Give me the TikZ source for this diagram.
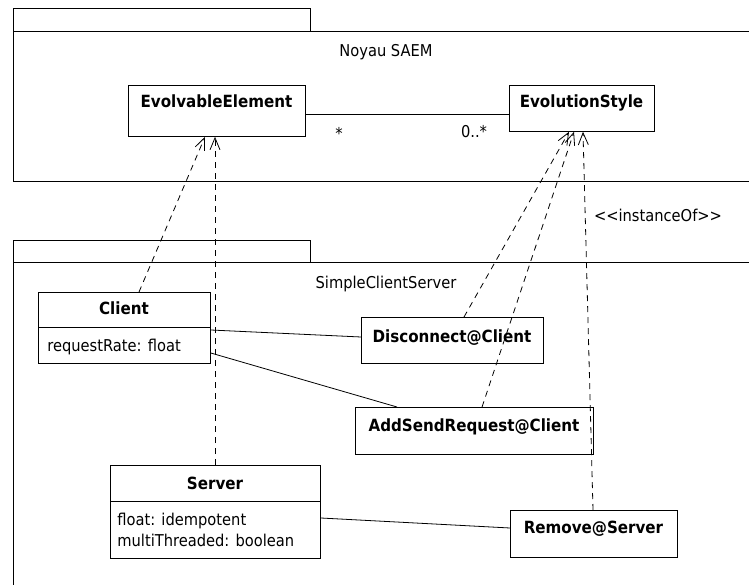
\documentclass[tikz,border=0pt]{standalone}
\usepackage{fontspec}
\setmainfont{DejaVu Sans Condensed}
\usetikzlibrary{arrows.meta,calc}
\begin{document}
\begin{tikzpicture}[x=1pt,y=-1pt,line width=0.8pt,
  box/.style={draw,fill=white,inner sep=0pt,anchor=north west},
  tab/.style={draw,inner sep=0pt,anchor=north west},
  ttl/.style={font=\bfseries\fontsize{16.8}{19}\selectfont,anchor=base,inner sep=0pt},
  txt/.style={font=\fontsize{16.3}{19}\selectfont,anchor=base,inner sep=0pt},
  attr/.style={font=\fontsize{16.3}{19}\selectfont,anchor=base west,inner sep=0pt},
  dep/.style={dash pattern=on 6pt off 5pt,-{Straight Barb[length=12pt,width=10pt]}},
  assoc/.style={draw}]
\useasboundingbox (0,0) rectangle (749,585);
\clip (0,0) rectangle (749,585);
% packages
\node[tab,minimum width=297,minimum height=23] (tab1) at (13,8) {};
\draw (760,31) -- (13,31) -- (13,181) -- (760,181);
\node[txt] (noyau) at (386,57) {Noyau SAEM};
\node[tab,minimum width=297,minimum height=22] (tab2) at (13,240) {};
\draw (760,262) -- (13,262) -- (13,600);
\node[txt] (scs) at (386,288) {SimpleClientServer};
% Noyau classes
\node[box,minimum width=177,minimum height=51] (ee) at (128,85) {};
\node[ttl] (eet) at (216.5,108) {EvolvableElement};
\node[box,minimum width=145,minimum height=46] (es) at (509,85) {};
\node[ttl] (est) at (581.5,108) {EvolutionStyle};
\draw (ee.east |- 0,114) -- (es.west |- 0,114);
\node[txt] (m1) at (339,140) {*};
\node[txt] (m2) at (474,138) {0..*};
% SimpleClientServer classes
\node[box,minimum width=172,minimum height=71] (cl) at (38,292) {};
\draw (cl.west |- 0,327) -- (cl.east |- 0,327);
\node[ttl] (clt) at (124,314) {Client};
\node[attr] (cla) at (47,351) {requestRate: float};
\node[box,minimum width=182,minimum height=46] (dc) at (361,317) {};
\node[ttl] (dct) at (452,342) {Disconnect@Client};
\node[box,minimum width=238,minimum height=47] (asr) at (355,407) {};
\node[ttl] (asrt) at (474,431) {AddSendRequest@Client};
\node[box,minimum width=210,minimum height=93] (sv) at (110,465) {};
\draw (sv.west |- 0,501) -- (sv.east |- 0,501);
\node[ttl] (svt) at (215,489) {Server};
\node[attr] (sva1) at (117,525) {float: idempotent};
\node[attr] (sva2) at (117,546) {multiThreaded: boolean};
\node[box,minimum width=167,minimum height=47] (rm) at (510,510) {};
\node[ttl] (rmt) at (593.5,533) {Remove@Server};
% associations
\draw (cl.east |- 0,330) -- (dc.west |- 0,337);
\draw (cl.east |- 0,353) -- (asr.north -| 397,0);
\draw (sv.east |- 0,518) -- (rm.west |- 0,528);
% instanceOf dependencies
\draw[dep] (cl.north -| 139,0) -- (ee.south -| 205,0);
\draw[dep] (sv.north -| 215,0) -- (ee.south -| 215,0);
\draw[dep] (dc.north -| 464,0) -- (es.south -| 569,0);
\draw[dep] (asr.north -| 482,0) -- (es.south -| 574,0);
\draw[dep] (rm.north -| 593,0) -- (es.south -| 583,0);
\node[txt] (inst) at (658,222) {<{}<instanceOf>{}>};
\end{tikzpicture}
\end{document}
